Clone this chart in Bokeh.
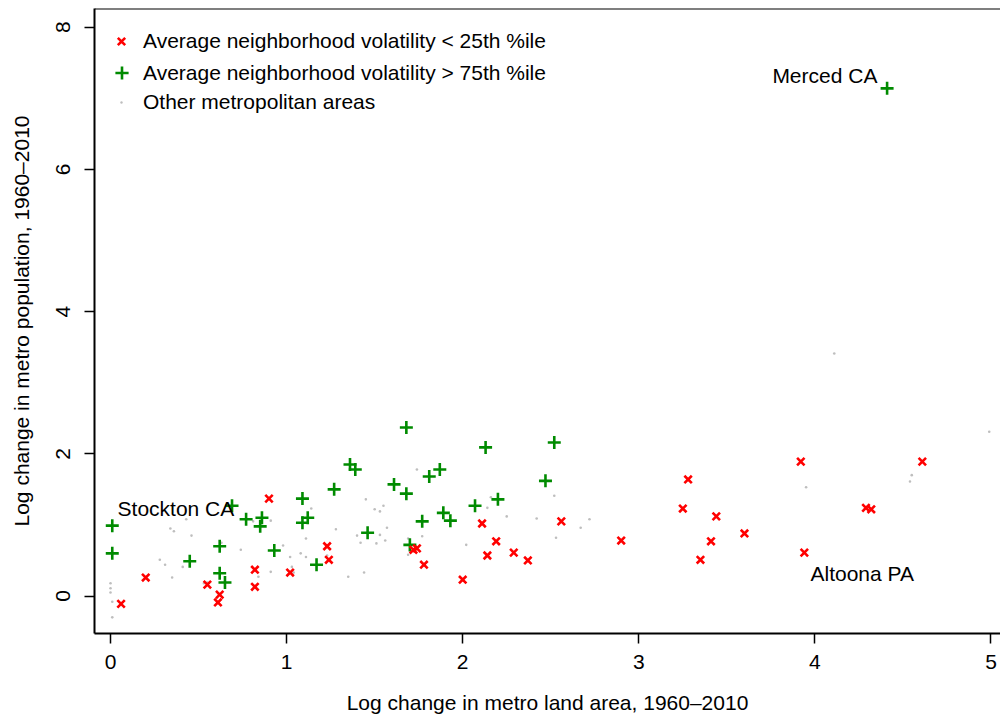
from bokeh.plotting import figure
from bokeh.models import FixedTicker, Legend, LegendItem, Span, ColumnDataSource
from bokeh.core.properties import value
from bokeh.embed import file_html
from bokeh.resources import INLINE

# Metros with average neighborhood volatility < 25th percentile
low_x = [0.06, 0.20, 0.55, 0.62, 0.61, 0.82, 0.82, 0.90, 1.02, 1.23, 1.24, 1.72, 1.74,
         1.78, 2.00, 2.11, 2.19, 2.14, 2.29, 2.37, 2.56, 2.90, 3.28, 3.25, 3.44, 3.60,
         3.41, 3.35, 3.92, 3.94, 4.29, 4.32, 4.61]
low_y = [-0.11, 0.26, 0.16, 0.02, -0.09, 0.37, 0.13, 1.37, 0.33, 0.70, 0.51, 0.65, 0.67,
         0.44, 0.23, 1.02, 0.77, 0.57, 0.61, 0.50, 1.05, 0.78, 1.64, 1.23, 1.12, 0.88,
         0.77, 0.51, 1.89, 0.61, 1.24, 1.22, 1.89]

# Metros with average neighborhood volatility > 75th percentile
high_x = [0.01, 0.01, 0.45, 0.62, 0.62, 0.65, 0.69, 0.77, 0.86, 0.85, 0.93, 1.09, 1.09,
          1.12, 1.17, 1.27, 1.36, 1.39, 1.46, 1.61, 1.68, 1.68, 1.70, 1.77, 1.81, 1.87,
          1.89, 1.93, 2.07, 2.13, 2.52, 2.47, 2.20, 4.41]
high_y = [0.99, 0.60, 0.49, 0.70, 0.32, 0.19, 1.27, 1.08, 1.10, 0.98, 0.64, 1.37, 1.03,
          1.10, 0.44, 1.50, 1.85, 1.78, 0.89, 1.57, 1.44, 2.37, 0.72, 1.05, 1.68, 1.78,
          1.17, 1.06, 1.27, 2.09, 2.16, 1.62, 1.36, 7.14]

# Other metropolitan areas
other_x = [0.00, 0.00, 0.00, 0.01, 0.01, 0.34, 0.36, 0.43, 0.46, 0.28, 0.31, 0.35, 0.41,
           0.63, 0.74, 0.53, 0.55, 0.61, 0.81, 0.91, 0.98, 1.02, 0.91, 0.84, 1.03, 1.04,
           1.08, 1.11, 1.11, 1.14, 1.28, 1.35, 1.44, 1.45, 1.50, 1.53, 1.55, 1.40, 1.42,
           1.51, 1.53, 1.56, 1.57, 1.69, 1.77, 1.74, 1.69, 1.70, 1.23, 2.02, 2.14, 2.16,
           2.25, 2.42, 2.52, 2.53, 2.67, 2.72, 4.11, 4.99, 3.95, 4.55, 4.54]
other_y = [0.18, 0.11, 0.05, -0.08, -0.30, 0.95, 0.91, 1.08, 0.85, 0.51, 0.44, 0.26, 0.41,
           0.75, 0.65, 0.18, 0.19, 0.04, 1.05, 1.06, 0.71, 0.55, 0.34, 0.27, 0.41, 0.33,
           0.60, 0.55, 0.81, 1.23, 0.94, 0.27, 0.33, 1.36, 1.22, 1.19, 1.27, 0.85, 0.75,
           0.74, 0.86, 0.78, 0.96, 0.81, 0.84, 1.78, 0.58, 0.63, 0.57, 0.72, 1.24, 1.39,
           1.12, 1.09, 1.41, 0.82, 0.96, 1.08, 3.41, 2.31, 1.53, 1.70, 1.61]

# Labelled metros
label_text = ["Stockton CA", "Merced CA", "Altoona PA"]
label_x = [0.04, 4.355, 3.975]
label_y = [1.23, 7.32, 0.316]
label_align = ["left", "right", "left"]

legend_labels = ["Average neighborhood volatility < 25th %ile",
                 "Average neighborhood volatility > 75th %ile",
                 "Other metropolitan areas"]

x_ticks = [0, 1, 2, 3, 4, 5]
y_ticks = [0, 2, 4, 6, 8]

FONT = "Liberation Sans"
FS = "21px"

p = figure(width=1000, height=719, output_backend="svg", toolbar_location=None,
           x_range=(-0.0909, 5.054), y_range=(-0.527, 8.263),
           min_border_left=94, min_border_right=0, min_border_top=8, min_border_bottom=86)
p.grid.visible = False
p.outline_line_color = None
p.background_fill_color = "white"
p.border_fill_color = "white"

for ax in (p.xaxis[0], p.yaxis[0]):
    ax.axis_line_color = "black"
    ax.axis_line_width = 2
    ax.major_tick_line_color = "black"
    ax.major_tick_line_width = 1.5
    ax.major_tick_out = 10
    ax.major_tick_in = 0
    ax.minor_tick_line_color = None
    ax.major_label_text_font = FONT
    ax.major_label_text_font_size = FS
    ax.major_label_text_color = "black"
    ax.axis_label_text_font = FONT
    ax.axis_label_text_font_size = FS
    ax.axis_label_text_font_style = "normal"
    ax.axis_label_text_color = "black"

p.xaxis.ticker = FixedTicker(ticks=x_ticks)
p.yaxis.ticker = FixedTicker(ticks=y_ticks)
p.xaxis.axis_label = "Log change in metro land area, 1960\u20132010"
p.yaxis.axis_label = "Log change in metro population, 1960\u20132010"
p.yaxis.major_label_orientation = "vertical"
p.xaxis.major_label_standoff = 11
p.xaxis.axis_label_standoff = 19
p.yaxis.major_label_standoff = 14
p.yaxis.axis_label_standoff = 21

p.add_layout(Span(location=8.263, dimension="width", line_color="black", line_width=2))

r_other = p.scatter(other_x, other_y, marker="circle", size=2.6,
                    fill_color="#BEBEBE", line_color=None)
r_high = p.scatter(high_x, high_y, marker="cross", size=13, line_color="#008B00",
                   line_width=2.6)
r_low = p.scatter(low_x, low_y, marker="x", size=10.5, line_color="#FF0000",
                  line_width=2.6)

src = ColumnDataSource(dict(x=label_x, y=label_y, t=label_text, a=label_align))
p.text(x="x", y="y", text="t", text_align="a", source=src, text_baseline="middle",
       text_font=value(FONT), text_font_size=FS, text_color="black")

# one legend per entry so each key glyph gets its own size
def add_key(renderer, label, box, loc, standoff):
    lg = Legend(items=[LegendItem(label=label, renderers=[renderer])],
                location=loc, padding=0, margin=0, spacing=0,
                glyph_width=box, glyph_height=box, label_height=box,
                label_standoff=standoff, border_line_color=None,
                background_fill_alpha=0, label_text_font=FONT,
                label_text_font_size=FS, label_text_color="black",
                label_text_baseline="middle")
    p.add_layout(lg)

add_key(r_low, legend_labels[0], 26, (14, 579), 9)
add_key(r_high, legend_labels[1], 33, (11, 544), 5)
add_key(r_other, legend_labels[2], 6, (24, 519), 19)

open("out.html", "w").write(file_html(p, INLINE))
